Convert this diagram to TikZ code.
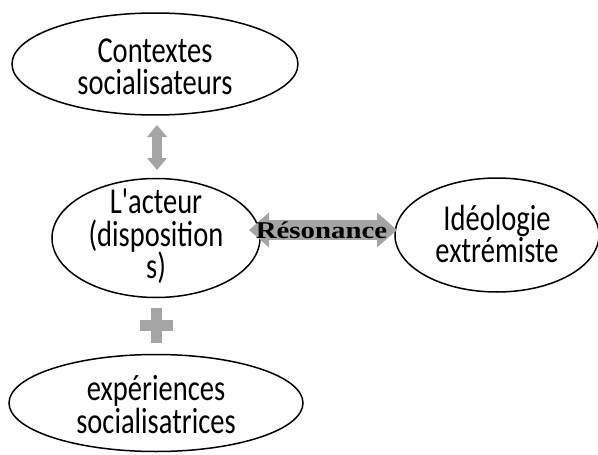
\documentclass[tikz,border=0pt]{standalone}
\usepackage{fontspec}
\newfontfamily\lblfont{Carlito}
\newfontfamily\resfont{Liberation Serif}
\usetikzlibrary{shapes.geometric,arrows.meta}
\definecolor{arrowgray}{HTML}{A5A5A5}
\newcommand{\tall}[1]{\scalebox{1}[1.28]{#1}}
\tikzset{
  oval/.style={draw=black, line width=1.5pt, ellipse, inner sep=0pt},
  lbl/.style={anchor=base, inner sep=0pt, font=\lblfont\fontsize{28.5}{33}\selectfont},
  bigarrow/.style={draw=arrowgray, line width=#1},
}
\begin{document}
\begin{tikzpicture}[x=1pt,y=-1pt]
\useasboundingbox (0,0) rectangle (598,455);
% ellipses
\node[oval, minimum width=286pt, minimum height=102pt] (top) at (155,64) {};
\node[oval, minimum width=208pt, minimum height=119pt] (mid) at (156,238) {};
\node[oval, minimum width=204pt, minimum height=114pt] (right) at (497,235) {};
\node[oval, minimum width=294pt, minimum height=97pt] (bot) at (156,403) {};
% labels
\node[lbl] (t1) at (155,62) {\tall{Contextes}};
\node[lbl] (t2) at (155,94) {\tall{socialisateurs}};
\node[lbl] (m1) at (156,213) {\tall{L'acteur}};
\node[lbl] (m2) at (156,246) {\tall{(disposition}};
\node[lbl] (m3) at (156,278) {\tall{s)}};
\node[lbl] (r1) at (497,230) {\tall{Idéologie}};
\node[lbl] (r2) at (497,262) {\tall{extrémiste}};
\node[lbl] (b1) at (156,400) {\tall{expériences}};
\node[lbl] (b2) at (156,433) {\tall{socialisatrices}};
% vertical double arrow
\coordinate (va) at (157,125);
\coordinate (vb) at (157,170);
\draw[bigarrow=10pt, arrows={Triangle[width=20pt,length=12pt,fill=arrowgray,line width=0pt]-Triangle[width=20pt,length=12pt,fill=arrowgray,line width=0pt]}] (va) -- (vb);
% horizontal double arrow
\coordinate (ha) at (249,230);
\coordinate (hb) at (397,230);
\draw[bigarrow=20pt, arrows={Triangle[width=35pt,length=20pt,fill=arrowgray,line width=0pt]-Triangle[width=35pt,length=20pt,fill=arrowgray,line width=0pt]}] (ha) -- (hb);
\node[anchor=base, inner sep=0pt, font=\resfont\bfseries\fontsize{24}{28}\selectfont] (res) at (321.5,238) {\scalebox{1.2}[1]{Résonance}};
% plus sign
\fill[arrowgray] (140,320) rectangle (173,331);
\fill[arrowgray] (151,308) rectangle (162,343);
\end{tikzpicture}
\end{document}
